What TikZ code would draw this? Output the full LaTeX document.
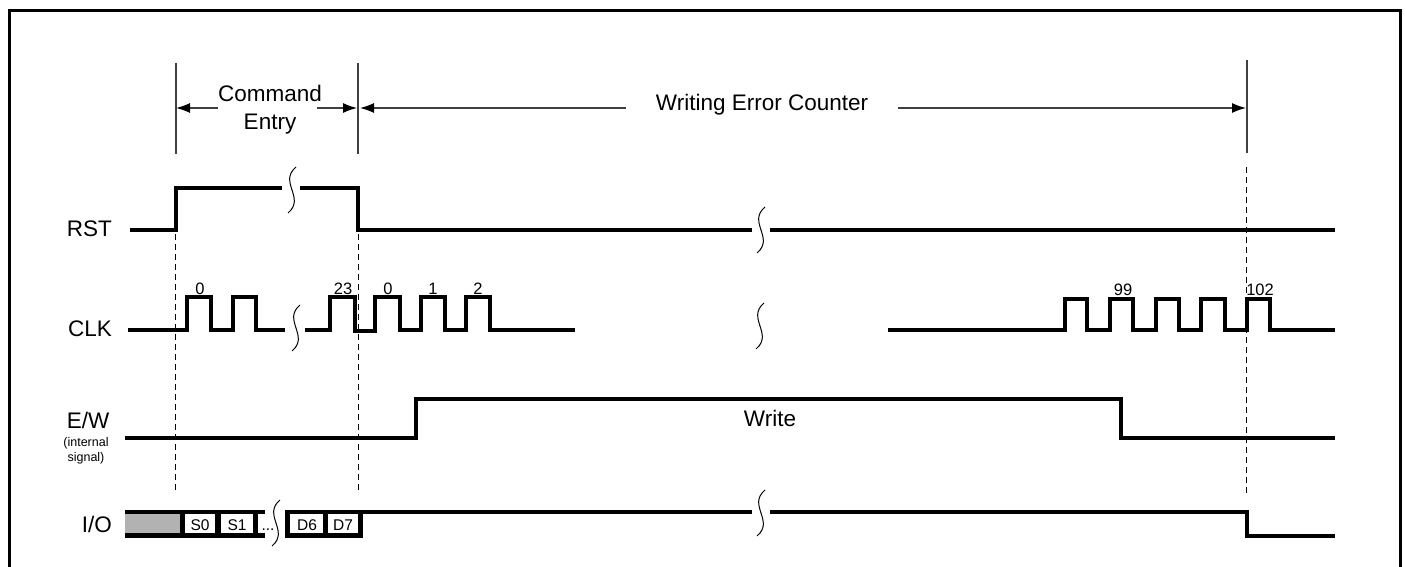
\documentclass[tikz,border=0pt]{standalone}
\usepackage{fontspec}
\setmainfont{Liberation Sans}
\usetikzlibrary{arrows.meta}
\begin{document}
\begin{tikzpicture}[x=1pt,y=-1pt,
  sig/.style={line width=4.5pt, line join=miter, line cap=butt},
  brk/.style={line width=1pt},
  dim/.style={line width=1.2pt, black!75},
  dimarrow/.style={dim, -{Latex[length=14pt,width=10pt,fill=black,color=black]}},
  guide/.style={line width=1pt, dash pattern=on 6pt off 4pt},
  lbl/.style={font=\fontsize{22.5}{27}\selectfont, inner sep=0pt},
  small/.style={font=\fontsize{12.5}{15}\selectfont, inner sep=0pt},
  num/.style={font=\fontsize{16.5}{20}\selectfont, inner sep=0pt},
  boxtxt/.style={font=\fontsize{15.5}{19}\selectfont, inner sep=0pt},
  squig/.pic={\draw[brk] (4,-23) .. controls (-14,-8) and (14,8) .. (-4,23);}
]
\useasboundingbox (0,0) rectangle (1405,567);
% frame
\draw[line width=3pt] (9.5,567) -- (9.5,11) -- (1400.5,11) -- (1400.5,567);

% extent markers
\draw[dim] (176,63) -- (176,154);
\draw[dim] (358,63) -- (358,154);
\draw[dim] (1247,60) -- (1247,153);
\draw[guide] (175,234) -- (175,493);
\draw[guide] (358,234) -- (358,490);
\draw[guide] (1246,167) -- (1246,495);

% labels and dimension arrows
\node[lbl, anchor=base] (cmd) at (270,102) {Command};
\node[lbl, anchor=base] (entry) at (270,130) {Entry};
\coordinate (cL) at (176,108);
\coordinate (cR) at (357,108);
\coordinate (cLs) at (218,108);
\coordinate (cRs) at (317,108);
\draw[dimarrow] (cLs) -- (cL);
\draw[dimarrow] (cRs) -- (cR);
\node[lbl, anchor=base] (wec) at (762,111) {Writing Error Counter};
\coordinate (wL) at (360,108);
\coordinate (wLs) at (626,108);
\coordinate (wR) at (1246,108);
\coordinate (wRs) at (898,108);
\draw[dimarrow] (wLs) -- (wL);
\draw[dimarrow] (wRs) -- (wR);

% signal names
\node[lbl, anchor=base east] (rst) at (112,236) {RST};
\node[lbl, anchor=base east] (clk) at (112,336) {CLK};
\node[lbl, anchor=base] (ew) at (88,428) {E/W};
\node[small, anchor=base] (ew1) at (86,446) {(internal};
\node[small, anchor=base] (ew2) at (86,461) {signal)};
\node[lbl, anchor=base east] (io) at (112,532) {I/O};

% RST
\draw[sig] (130,230) -- (176,230) -- (176,188) -- (282,188);
\draw[sig] (300,188) -- (358,188) -- (358,230) -- (752,230);
\draw[sig] (770,230) -- (1335,230);
\pic at (292,190) {squig};
\pic at (761,230) {squig};

% CLK
\draw[sig] (128,330) -- (187,330) -- (187,297) -- (211,297) -- (211,330)
  -- (233,330) -- (233,297) -- (256,297) -- (256,330) -- (285,330);
\draw[sig] (305,330) -- (330,330) -- (330,297) -- (355,297) -- (355,331)
  -- (375,331) -- (375,297) -- (400,297) -- (400,330) -- (421,330) -- (421,297)
  -- (445,297) -- (445,330) -- (466,330) -- (466,297) -- (490,297) -- (490,330)
  -- (575,330);
\draw[sig] (888,330) -- (1065,330) -- (1065,299) -- (1087,299) -- (1087,330)
  -- (1110,330) -- (1110,299) -- (1133,299) -- (1133,330) -- (1156,330)
  -- (1156,299) -- (1179,299) -- (1179,330) -- (1201,330) -- (1201,299)
  -- (1225,299) -- (1225,330) -- (1247,330) -- (1247,299) -- (1270,299)
  -- (1270,330) -- (1335,330);
\pic at (296,328) {squig};
\pic at (760,326) {squig};
\node[num, anchor=base] (n0) at (200,294) {0};
\node[num, anchor=base] (n23) at (343,294) {23};
\node[num, anchor=base] (m0) at (388,294) {0};
\node[num, anchor=base] (m1) at (433,294) {1};
\node[num, anchor=base] (m2) at (478,294) {2};
\node[num, anchor=base] (n99) at (1123,295) {99};
\node[num, anchor=base] (n102) at (1260,295) {102};

% E/W
\draw[sig] (125,438) -- (416,438) -- (416,399) -- (1121,399) -- (1121,438) -- (1335,438);
\node[lbl, anchor=base] (wr) at (770,426) {Write};

% I/O bus
\fill[black] (125,509.5) rectangle (265,537.5);
\fill[black!30] (125,514) rectangle (180,533);
\fill[white] (185,514) rectangle (215,533);
\fill[white] (221,514) rectangle (253,533);
\fill[white] (258,514) rectangle (265,533);
\fill[black] (285,509.5) rectangle (363,537.5);
\fill[white] (290,514) rectangle (323,533);
\fill[white] (328,514) rectangle (358,533);
\node[boxtxt, anchor=base] (s0) at (200,530.5) {S0};
\node[boxtxt, anchor=base] (s1) at (237,530.5) {S1};
\node[boxtxt, anchor=base] (dots) at (268,530.5) {...};
\node[boxtxt, anchor=base] (d6) at (307,530.5) {D6};
\node[boxtxt, anchor=base] (d7) at (343,530.5) {D7};
\pic at (276,523) {squig};
\draw[sig] (363,512) -- (752,512);
\draw[sig] (770,512) -- (1247,512) -- (1247,536) -- (1335,536);
\pic at (761,513) {squig};
\end{tikzpicture}
\end{document}
